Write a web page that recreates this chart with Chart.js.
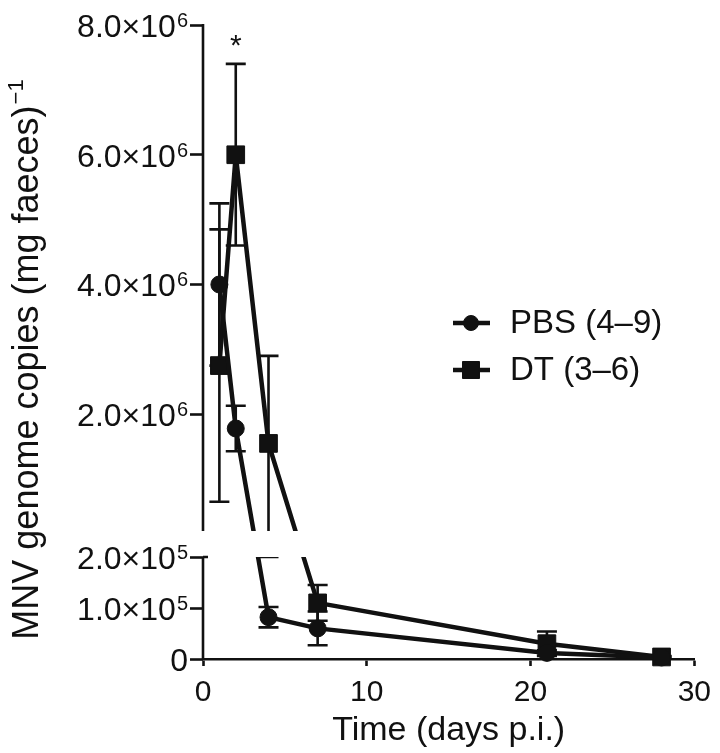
<!DOCTYPE html>
<html>
<head>
<meta charset="utf-8">
<script src="https://cdn.jsdelivr.net/npm/chart.js@4/dist/chart.umd.min.js"></script>
<style>
  html, body { margin: 0; padding: 0; background: #fff; }
  #wrap { width: 720px; height: 753px; }
</style>
</head>
<body>
<div id="wrap"><canvas id="chart"></canvas></div>
<script>
// ==================== DATA ====================
const days = [1, 2, 4, 7, 21, 28];
const pbsMean = [4.0e6, 1.78e6, 8.2e4, 6.0e4, 1.2e4, 3e3];
const pbsSem = [1.25e6, 0.35e6, 2.0e4, 3.3e4, 5e3, 2e3];
const dtMean = [2.75e6, 6.0e6, 1.55e6, 1.1e5, 3.0e4, 4e3];
const dtSem = [2.1e6, 1.4e6, 1.35e6, 3.5e4, 2.4e4, 2e3];
const seriesLabels = ['PBS (4\u20139)', 'DT (3\u20136)'];
const starDays = [2]; // significance mark over DT
const xTicks = [0, 10, 20, 30];
const yTicks = [0, 1e5, 2e5, 2e6, 4e6, 6e6, 8e6];
const yTickBase = ['0', '1.0\u00d710', '2.0\u00d710', '2.0\u00d710', '4.0\u00d710', '6.0\u00d710', '8.0\u00d710'];
const yTickExp = ['', '5', '5', '6', '6', '6', '6'];
const yTitle = ['MNV genome copies (mg faeces)', '\u22121'];
const xTitle = 'Time (days p.i.)';
const breakValue = 2e5;
const yMax = 8e6;

const INK = '#111';
const FONT = "'Liberation Sans', Arial, Helvetica, sans-serif";

// share of the plot height: lower segment, gap, rest is upper segment
const LOW_FRAC = 102 / 634;
const GAP_FRAC = 26 / 634;

// ==================== BROKEN Y SCALE ====================
class BrokenScale extends Chart.LinearScale {
  determineDataLimits() {
    this.min = 0;
    this.max = yMax;
  }
  buildTicks() {
    return yTicks.map((v) => ({ value: v }));
  }
  _parts() {
    const h = this.bottom - this.top;
    const lowH = h * LOW_FRAC;
    const gapH = h * GAP_FRAC;
    return { lowH, gapH, upH: h - lowH - gapH };
  }
  getPixelForValue(v) {
    const p = this._parts();
    if (v <= breakValue) return this.bottom - (v / breakValue) * p.lowH;
    return this.bottom - p.lowH - p.gapH - ((v - breakValue) / (this.max - breakValue)) * p.upH;
  }
  getValueForPixel(px) {
    const p = this._parts();
    const d = this.bottom - px;
    if (d <= p.lowH) return (d / p.lowH) * breakValue;
    return breakValue + ((d - p.lowH - p.gapH) / p.upH) * (this.max - breakValue);
  }
}
BrokenScale.id = 'broken';
BrokenScale.defaults = Chart.LinearScale.defaults;
Chart.register(BrokenScale);

// ==================== PLUGINS ====================
const errorBars = {
  id: 'errorBars',
  beforeDatasetsDraw(chart) {
    const { ctx, scales: { x, y } } = chart;
    const sets = [[pbsMean, pbsSem], [dtMean, dtSem]];
    ctx.save();
    ctx.strokeStyle = INK;
    ctx.lineWidth = 2.6;
    sets.forEach(([m, s]) => {
      days.forEach((d, i) => {
        const px = x.getPixelForValue(d);
        const top = y.getPixelForValue(m[i] + s[i]);
        const bot = y.getPixelForValue(Math.max(m[i] - s[i], 0));
        ctx.beginPath();
        ctx.moveTo(px, top);
        ctx.lineTo(px, bot);
        ctx.moveTo(px - 10, top);
        ctx.lineTo(px + 10, top);
        ctx.moveTo(px - 10, bot);
        ctx.lineTo(px + 10, bot);
        ctx.stroke();
      });
    });
    ctx.restore();
  },
  afterDatasetsDraw(chart) {
    const { ctx, chartArea: a, scales: { x, y } } = chart;
    const lowTop = y.getPixelForValue(breakValue);
    const p = y._parts();
    const upBottom = lowTop - p.gapH;
    ctx.save();
    // white band for the axis break
    ctx.fillStyle = '#fff';
    ctx.fillRect(a.left + 2, upBottom, a.right - a.left, p.gapH);
    // broken y axis line
    ctx.strokeStyle = INK;
    ctx.lineWidth = 2.6;
    ctx.beginPath();
    ctx.moveTo(a.left, a.top - 1);
    ctx.lineTo(a.left, upBottom);
    ctx.moveTo(a.left, lowTop);
    ctx.lineTo(a.left, a.bottom + 1);
    ctx.moveTo(a.left, lowTop);
    ctx.lineTo(a.left + 5, lowTop);
    ctx.stroke();
    // asterisk
    ctx.fillStyle = INK;
    ctx.font = '30px ' + FONT;
    ctx.textAlign = 'center';
    ctx.textBaseline = 'middle';
    starDays.forEach((d) => {
      const i = days.indexOf(d);
      ctx.fillText('*', x.getPixelForValue(d), y.getPixelForValue(dtMean[i] + dtSem[i]) - 17);
    });
    ctx.restore();
  },
  afterDraw(chart) {
    const { ctx, chartArea: a, scales: { y } } = chart;
    ctx.save();
    ctx.fillStyle = INK;
    ctx.strokeStyle = INK;

    // y tick labels with raised exponents
    const right = a.left - 15;
    ctx.textBaseline = 'alphabetic';
    ctx.textAlign = 'left';
    yTicks.forEach((v, i) => {
      const py = y.getPixelForValue(v);
      ctx.font = '20px ' + FONT;
      const ew = yTickExp[i] ? ctx.measureText(yTickExp[i]).width : 0;
      ctx.fillText(yTickExp[i], right - ew, py + 2);
      ctx.font = '32px ' + FONT;
      const bw = ctx.measureText(yTickBase[i]).width;
      ctx.fillText(yTickBase[i], right - ew - bw - (ew ? 1 : 0), py + 12);
    });

    // y title, rotated, with superscript
    ctx.translate(26, 360);
    ctx.rotate(-Math.PI / 2);
    ctx.font = '36px ' + FONT;
    const w1 = ctx.measureText(yTitle[0]).width;
    ctx.font = '22px ' + FONT;
    const w2 = ctx.measureText(yTitle[1]).width;
    const x0 = -(w1 + w2) / 2;
    ctx.font = '36px ' + FONT;
    ctx.fillText(yTitle[0], x0, 12);
    ctx.font = '22px ' + FONT;
    ctx.fillText(yTitle[1], x0 + w1 + 1, -3);
    ctx.setTransform(1, 0, 0, 1, 0, 0);

    // legend
    const styles = [['circle', 7.5], ['rect', 12]];
    const rows = [323, 370];
    seriesLabels.forEach((label, i) => {
      const yy = rows[i];
      ctx.lineWidth = 4.5;
      ctx.beginPath();
      ctx.moveTo(453, yy);
      ctx.lineTo(490, yy);
      ctx.stroke();
      ctx.lineWidth = 1;
      Chart.helpers.drawPoint(ctx, { pointStyle: styles[i][0], radius: styles[i][1], borderWidth: 1 }, 471, yy);
      ctx.font = '33px ' + FONT;
      ctx.textAlign = 'left';
      ctx.textBaseline = 'middle';
      ctx.fillText(label, 510, yy + 1);
    });
    ctx.restore();
  },
};

// ==================== CHART ====================
const toPoints = (vals) => days.map((d, i) => ({ x: d, y: vals[i] }));

new Chart(document.getElementById('chart'), {
  type: 'line',
  data: {
    datasets: [
      {
        label: seriesLabels[0],
        data: toPoints(pbsMean),
        borderColor: INK,
        backgroundColor: INK,
        borderWidth: 4.5,
        pointStyle: 'circle',
        pointRadius: 8.5,
        pointBorderWidth: 1,
        tension: 0,
      },
      {
        label: seriesLabels[1],
        data: toPoints(dtMean),
        borderColor: INK,
        backgroundColor: INK,
        borderWidth: 4.5,
        pointStyle: 'rect',
        pointRadius: 12.5,
        pointBorderWidth: 1,
        tension: 0,
      },
    ],
  },
  options: {
    responsive: true,
    maintainAspectRatio: false,
    animation: false,
    events: [],
    layout: { padding: { top: 25, right: 22, left: 0, bottom: 0 } },
    plugins: { legend: { display: false }, tooltip: { enabled: false } },
    scales: {
      x: {
        type: 'linear',
        min: 0,
        max: 30,
        afterBuildTicks: (s) => { s.ticks = xTicks.map((v) => ({ value: v })); },
        afterFit: (s) => { s.height = 94; },
        grid: { drawOnChartArea: false, tickLength: 7, tickWidth: 2.6, color: INK },
        border: { display: true, color: INK, width: 2.6 },
        ticks: { color: INK, font: { family: FONT, size: 30 }, padding: 9, maxRotation: 0 },
        title: { display: true, text: xTitle, color: INK, font: { family: FONT, size: 34 }, padding: { top: 0, bottom: 2 } },
      },
      y: {
        type: 'broken',
        afterFit: (s) => { s.width = 203; },
        grid: { drawOnChartArea: false, tickLength: 13, tickWidth: 2.6, color: INK },
        border: { display: false },
        ticks: { display: false, autoSkip: false },
        title: { display: false },
      },
    },
  },
  plugins: [errorBars],
});
</script>
</body>
</html>
